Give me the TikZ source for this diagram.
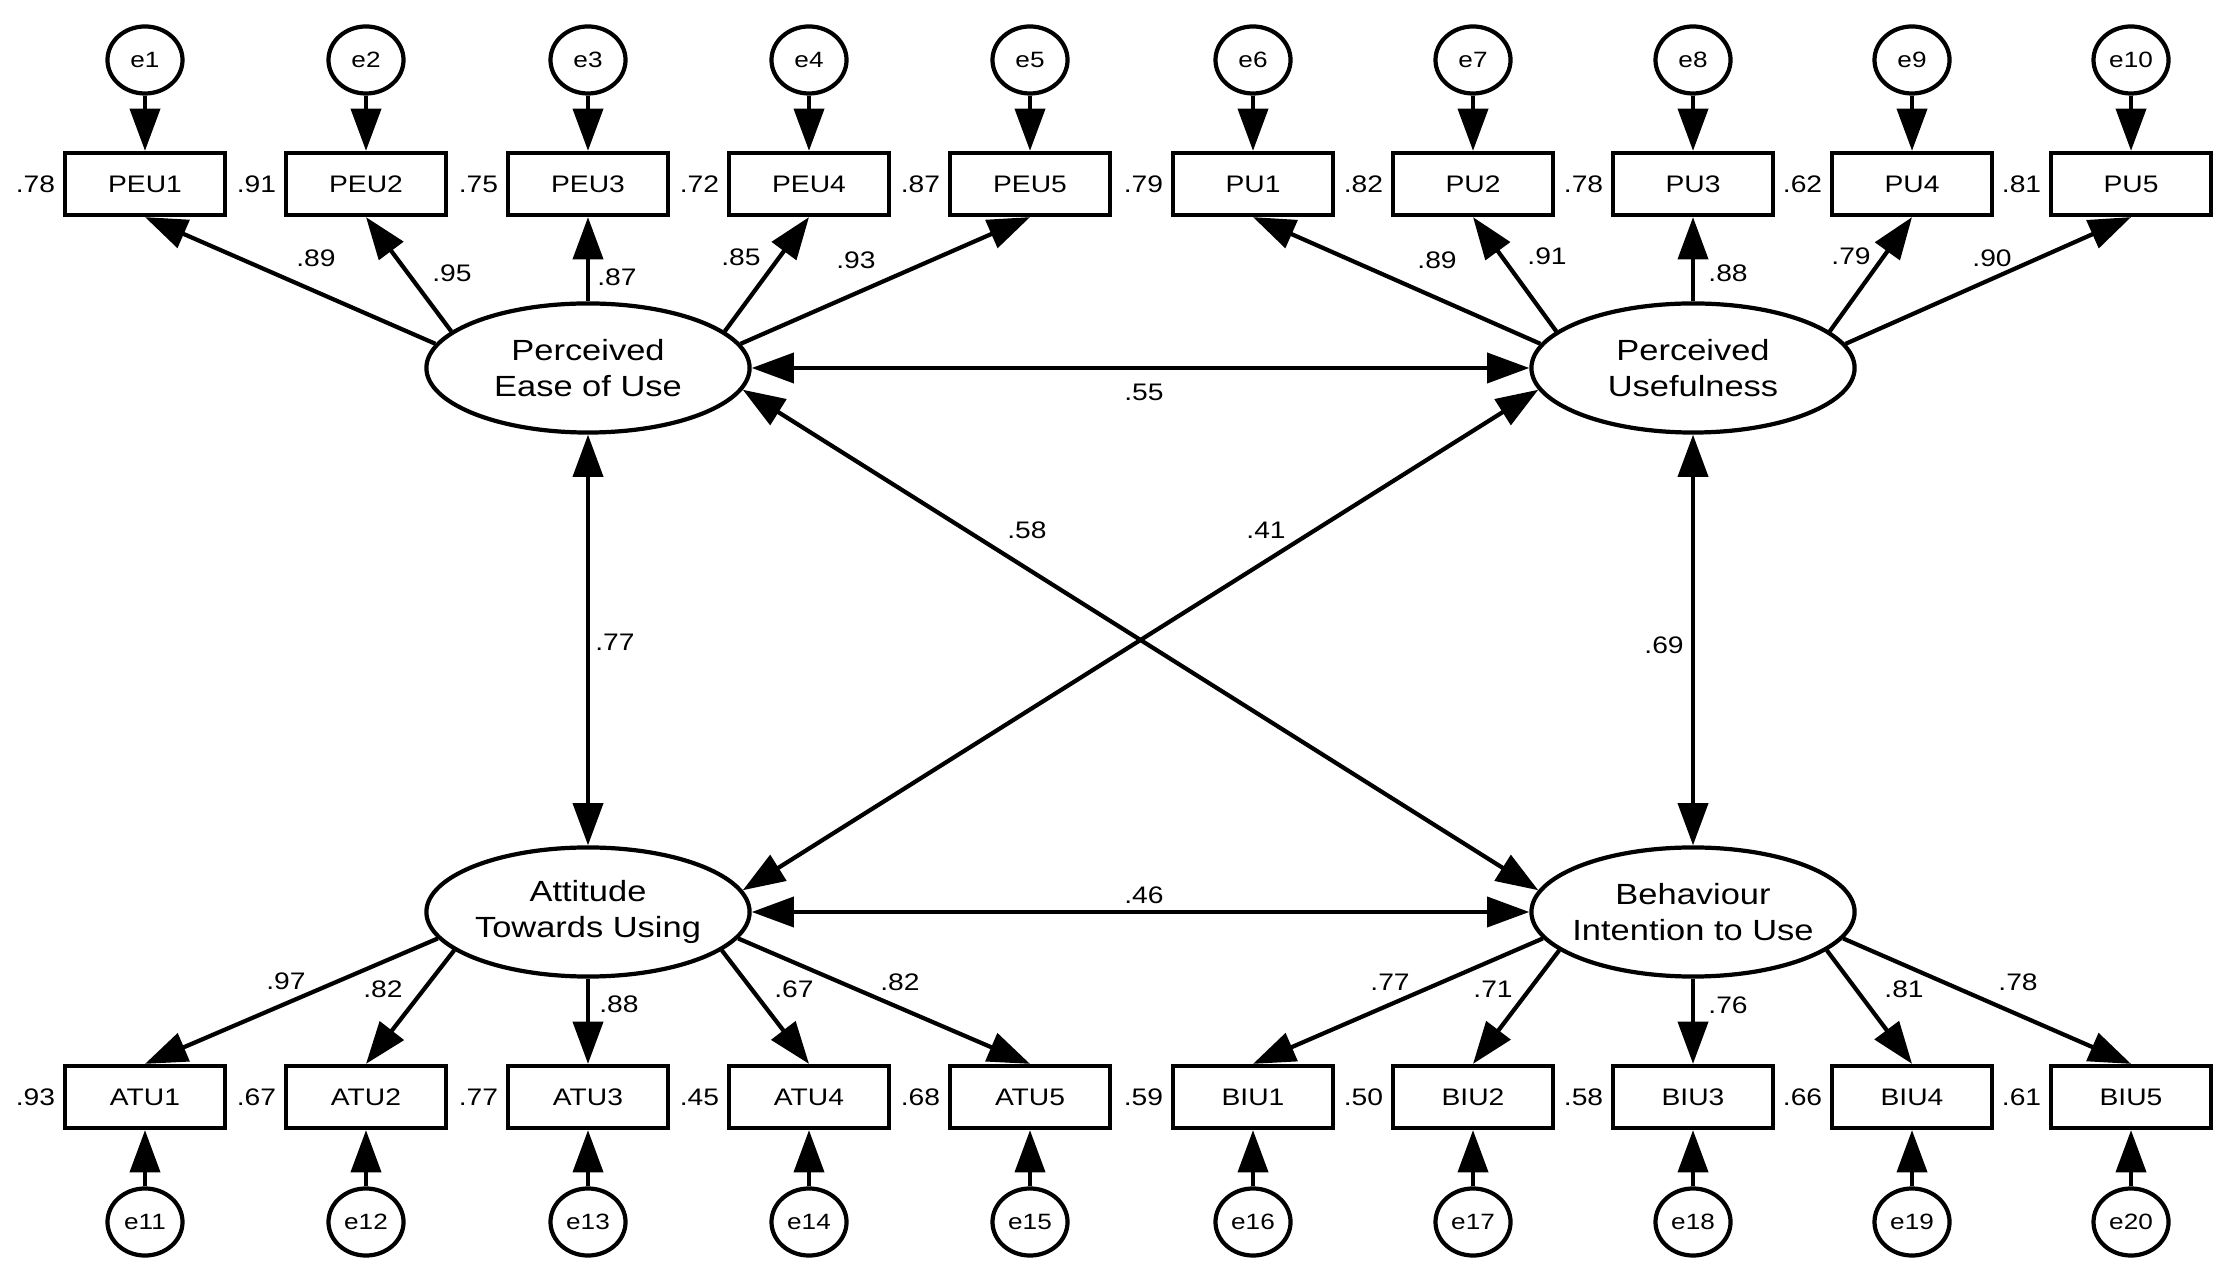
\documentclass[tikz,border=0pt]{standalone}
\usepackage{fontspec}
\setmainfont[FakeStretch=1.18]{Liberation Sans}
\usetikzlibrary{arrows.meta,positioning,shapes.geometric}

\begin{document}
\begin{tikzpicture}[x=0.01cm,y=-0.01cm,
      box/.style={draw,line width=1.2pt,minimum width=1.6cm,minimum height=0.62cm,inner sep=0pt,font=\fontsize{6.8}{8}\selectfont},
      err/.style={draw,ellipse,line width=1.2pt,minimum width=0.75cm,minimum height=0.67cm,inner sep=0pt,font=\fontsize{6.3}{7}\selectfont},
      latent/.style={draw,ellipse,line width=1.2pt,minimum width=3.23cm,minimum height=1.29cm,inner xsep=-8pt,inner ysep=0pt,align=center,font=\fontsize{8.3}{10}\selectfont},
      num/.style={inner sep=0pt,font=\fontsize{6.8}{8}\selectfont},
      arr/.style={line width=1.2pt,-{Triangle[length=12pt,width=8.5pt]}},
      cov/.style={line width=1.2pt,{Triangle[length=12pt,width=8.5pt]}-{Triangle[length=12pt,width=8.5pt]}}]
      \useasboundingbox (0,0) rectangle (2240,1277);

      % latent variables
      \node[latent] (PEU) at (588,368) {Perceived\\Ease of Use};
      \node[latent] (PU) at (1693,368) {Perceived\\Usefulness};
      \node[latent] (ATU) at (588,912) {Attitude\\Towards Using};
      \node[latent] (BIU) at (1693,912) {Behaviour\\Intention to Use};

      % top indicators
      \node[box] (PEU1) at (145,184) {PEU1}; \node[err] (e1) at (145,60) {e1};
      \node[box] (PEU2) at (366,184) {PEU2}; \node[err] (e2) at (366,60) {e2};
      \node[box] (PEU3) at (588,184) {PEU3}; \node[err] (e3) at (588,60) {e3};
      \node[box] (PEU4) at (809,184) {PEU4}; \node[err] (e4) at (809,60) {e4};
      \node[box] (PEU5) at (1030,184) {PEU5}; \node[err] (e5) at (1030,60) {e5};
      \node[box] (PU1) at (1253,184) {PU1}; \node[err] (e6) at (1253,60) {e6};
      \node[box] (PU2) at (1473,184) {PU2}; \node[err] (e7) at (1473,60) {e7};
      \node[box] (PU3) at (1693,184) {PU3}; \node[err] (e8) at (1693,60) {e8};
      \node[box] (PU4) at (1912,184) {PU4}; \node[err] (e9) at (1912,60) {e9};
      \node[box] (PU5) at (2131,184) {PU5}; \node[err] (e10) at (2131,60) {e10};

      % bottom indicators
      \node[box] (ATU1) at (145,1097) {ATU1}; \node[err] (e11) at (145,1222) {e11};
      \node[box] (ATU2) at (366,1097) {ATU2}; \node[err] (e12) at (366,1222) {e12};
      \node[box] (ATU3) at (588,1097) {ATU3}; \node[err] (e13) at (588,1222) {e13};
      \node[box] (ATU4) at (809,1097) {ATU4}; \node[err] (e14) at (809,1222) {e14};
      \node[box] (ATU5) at (1030,1097) {ATU5}; \node[err] (e15) at (1030,1222) {e15};
      \node[box] (BIU1) at (1253,1097) {BIU1}; \node[err] (e16) at (1253,1222) {e16};
      \node[box] (BIU2) at (1473,1097) {BIU2}; \node[err] (e17) at (1473,1222) {e17};
      \node[box] (BIU3) at (1693,1097) {BIU3}; \node[err] (e18) at (1693,1222) {e18};
      \node[box] (BIU4) at (1912,1097) {BIU4}; \node[err] (e19) at (1912,1222) {e19};
      \node[box] (BIU5) at (2131,1097) {BIU5}; \node[err] (e20) at (2131,1222) {e20};

      % squared multiple correlations
      \node[num,left=2pt of PEU1] (r1) {.78};
      \node[num,left=2pt of PEU2] (r2) {.91};
      \node[num,left=2pt of PEU3] (r3) {.75};
      \node[num,left=2pt of PEU4] (r4) {.72};
      \node[num,left=2pt of PEU5] (r5) {.87};
      \node[num,left=2pt of PU1] (r6) {.79};
      \node[num,left=2pt of PU2] (r7) {.82};
      \node[num,left=2pt of PU3] (r8) {.78};
      \node[num,left=2pt of PU4] (r9) {.62};
      \node[num,left=2pt of PU5] (r10) {.81};
      \node[num,left=2pt of ATU1] (r11) {.93};
      \node[num,left=2pt of ATU2] (r12) {.67};
      \node[num,left=2pt of ATU3] (r13) {.77};
      \node[num,left=2pt of ATU4] (r14) {.45};
      \node[num,left=2pt of ATU5] (r15) {.68};
      \node[num,left=2pt of BIU1] (r16) {.59};
      \node[num,left=2pt of BIU2] (r17) {.50};
      \node[num,left=2pt of BIU3] (r18) {.58};
      \node[num,left=2pt of BIU4] (r19) {.66};
      \node[num,left=2pt of BIU5] (r20) {.61};

      % error terms
      \draw[arr] (e1) -- (PEU1); \draw[arr] (e2) -- (PEU2); \draw[arr] (e3) -- (PEU3);
      \draw[arr] (e4) -- (PEU4); \draw[arr] (e5) -- (PEU5);
      \draw[arr] (e6) -- (PU1); \draw[arr] (e7) -- (PU2); \draw[arr] (e8) -- (PU3);
      \draw[arr] (e9) -- (PU4); \draw[arr] (e10) -- (PU5);
      \draw[arr] (e11) -- (ATU1); \draw[arr] (e12) -- (ATU2); \draw[arr] (e13) -- (ATU3);
      \draw[arr] (e14) -- (ATU4); \draw[arr] (e15) -- (ATU5);
      \draw[arr] (e16) -- (BIU1); \draw[arr] (e17) -- (BIU2); \draw[arr] (e18) -- (BIU3);
      \draw[arr] (e19) -- (BIU4); \draw[arr] (e20) -- (BIU5);

      % loadings
      \draw[arr] (PEU.171) -- (PEU1.south); \node[num] (l1) at (316,258) {.89};
      \draw[arr] (PEU.165) -- (PEU2.south); \node[num] (l2) at (452,273) {.95};
      \draw[arr] (PEU.90) -- (PEU3.south); \node[num] (l3) at (617,277) {.87};
      \draw[arr] (PEU.15) -- (PEU4.south); \node[num] (l4) at (741,257) {.85};
      \draw[arr] (PEU.9) -- (PEU5.south); \node[num] (l5) at (856,260) {.93};
      \draw[arr] (PU.171) -- (PU1.south); \node[num] (l6) at (1437,260) {.89};
      \draw[arr] (PU.165) -- (PU2.south); \node[num] (l7) at (1547,256) {.91};
      \draw[arr] (PU.90) -- (PU3.south); \node[num] (l8) at (1728,273) {.88};
      \draw[arr] (PU.15) -- (PU4.south); \node[num] (l9) at (1851,256) {.79};
      \draw[arr] (PU.9) -- (PU5.south); \node[num] (l10) at (1992,258) {.90};
      \draw[arr] (ATU.190) -- (ATU1.north); \node[num] (l11) at (286,981) {.97};
      \draw[arr] (ATU.196) -- (ATU2.north); \node[num] (l12) at (383,989) {.82};
      \draw[arr] (ATU.270) -- (ATU3.north); \node[num] (l13) at (619,1004) {.88};
      \draw[arr] (ATU.344) -- (ATU4.north); \node[num] (l14) at (794,989) {.67};
      \draw[arr] (ATU.350) -- (ATU5.north); \node[num] (l15) at (900,982) {.82};
      \draw[arr] (BIU.190) -- (BIU1.north); \node[num] (l16) at (1390,982) {.77};
      \draw[arr] (BIU.196) -- (BIU2.north); \node[num] (l17) at (1493,989) {.71};
      \draw[arr] (BIU.270) -- (BIU3.north); \node[num] (l18) at (1728,1005) {.76};
      \draw[arr] (BIU.344) -- (BIU4.north); \node[num] (l19) at (1904,989) {.81};
      \draw[arr] (BIU.350) -- (BIU5.north); \node[num] (l20) at (2018,982) {.78};

      % correlations
      \draw[cov] (PEU) -- (PU); \node[num] (c1) at (1144,392) {.55};
      \draw[cov] (PEU.-8) -- (BIU.172); \node[num] (c2) at (1027,530) {.58};
      \draw[cov] (PU.188) -- (ATU.8); \node[num] (c3) at (1266,530) {.41};
      \draw[cov] (PEU) -- (ATU); \node[num] (c4) at (615,642) {.77};
      \draw[cov] (PU) -- (BIU); \node[num] (c5) at (1664,645) {.69};
      \draw[cov] (ATU) -- (BIU); \node[num] (c6) at (1144,895) {.46};
\end{tikzpicture}
\end{document}
